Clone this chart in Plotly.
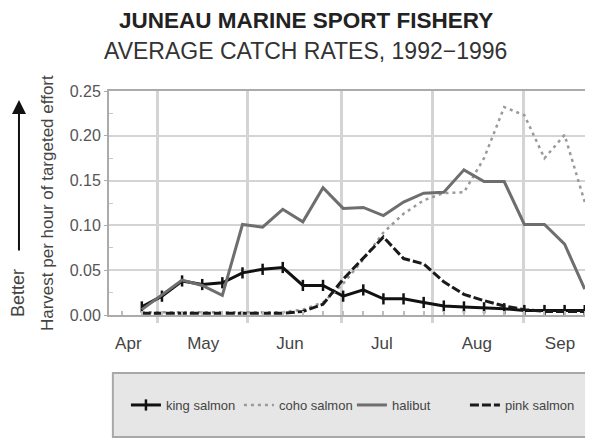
import plotly.graph_objects as go

# ---- data (weekly average catch rates, harvest per hour of targeted effort) ----
weeks = list(range(1, 24))
king_salmon = [0.009, 0.021, 0.038, 0.034, 0.036, 0.047, 0.051, 0.053, 0.033, 0.033, 0.021, 0.028,
               0.018, 0.018, 0.014, 0.010, 0.009, 0.008, 0.007, 0.005, 0.005, 0.005, 0.005]
coho_salmon = [0.003, 0.003, 0.003, 0.003, 0.003, 0.003, 0.003, 0.003, 0.006, 0.014, 0.035, 0.062,
               0.092, 0.113, 0.128, 0.136, 0.137, 0.175, 0.232, 0.223, 0.175, 0.201, 0.126]
halibut = [0.006, 0.023, 0.039, 0.033, 0.022, 0.101, 0.098, 0.118, 0.104, 0.142, 0.119, 0.120,
           0.111, 0.126, 0.136, 0.137, 0.162, 0.149, 0.149, 0.101, 0.101, 0.079, 0.029]
pink_salmon = [0.002, 0.002, 0.002, 0.002, 0.002, 0.002, 0.002, 0.002, 0.004, 0.012, 0.040, 0.064,
               0.087, 0.063, 0.057, 0.037, 0.023, 0.016, 0.010, 0.006, 0.004, 0.004, 0.004]

month_labels = ["Apr", "May", "Jun", "Jul", "Aug", "Sep"]
month_label_pos = [0.33, 4.05, 8.36, 12.92, 17.64, 21.77]   # mid-month, in week units
month_start_pos = [1.79, 6.26, 10.93, 15.43, 19.97]         # month boundaries (gridlines)
x_range = [-0.63, 23.41]

FONT = "Liberation Sans, Arial, Helvetica, sans-serif"
GRID = "#d4d4d4"
FRAME = "#ababab"

fig = go.Figure()

fig.add_trace(go.Scatter(
    x=weeks, y=king_salmon, name="king salmon", mode="lines+markers",
    line=dict(color="#111111", width=3),
    marker=dict(symbol="line-ns-open", size=8, color="#111111", line=dict(width=2.5, color="#111111")),
))
fig.add_trace(go.Scatter(
    x=weeks, y=coho_salmon, name="coho salmon", mode="lines",
    line=dict(color="#9a9a9a", width=2.5, dash="3px,4px"),
))
fig.add_trace(go.Scatter(
    x=weeks, y=halibut, name="halibut", mode="lines",
    line=dict(color="#6e6e6e", width=3),
))
fig.add_trace(go.Scatter(
    x=weeks, y=pink_salmon, name="pink salmon", mode="lines",
    line=dict(color="#1a1a1a", width=3, dash="9px,3px"),
))
# helper (invisible) trace for the weekly tick axis
fig.add_trace(go.Scatter(
    x=weeks, y=[None] * len(weeks), xaxis="x2", mode="lines",
    showlegend=False, hoverinfo="skip",
))

# the page body adds an 8px offset; margins compensate so the plot area sits at 109..593 x 91..315
fig.update_layout(
    width=593, height=440,
    margin=dict(l=101, r=8, t=83, b=133, autoexpand=False),
    paper_bgcolor="white", plot_bgcolor="white",
    font=dict(family=FONT, color="#444444", size=14),
    showlegend=True,
    legend=dict(
        orientation="h", xref="container", yref="container",
        x=0.580, xanchor="center", y=0.0977, yanchor="middle",
        bgcolor="rgba(0,0,0,0)", borderwidth=0,
        font=dict(size=13, color="#444444", family=FONT),
        entrywidth=68, entrywidthmode="pixels", itemwidth=30,
    ),
    xaxis=dict(
        range=x_range, tickmode="array", tickvals=month_label_pos, ticktext=month_labels,
        ticks="", showgrid=False, zeroline=False, automargin=False,
        showline=True, linecolor=FRAME, linewidth=2, mirror=True,
        tickfont=dict(size=17, color="#444444"), ticklabelstandoff=12,
        minor=dict(tickmode="array", tickvals=month_start_pos, showgrid=True,
                   gridcolor=GRID, gridwidth=3, ticks="outside", ticklen=6,
                   tickcolor=GRID, tickwidth=3),
    ),
    xaxis2=dict(
        range=x_range, overlaying="x", anchor="y", side="bottom", automargin=False,
        tickmode="linear", tick0=0, dtick=1, ticks="inside", ticklen=4,
        tickcolor="#bdbdbd", tickwidth=1.5, showticklabels=False,
        showgrid=False, zeroline=False, showline=False,
    ),
    yaxis=dict(
        range=[0, 0.25], tickmode="linear", tick0=0, dtick=0.05, tickformat=".2f",
        showgrid=True, gridcolor=GRID, gridwidth=2, zeroline=False, automargin=False,
        showline=True, linecolor=FRAME, linewidth=2, mirror=True,
        ticks="outside", ticklen=3, tickcolor=FRAME,
        tickfont=dict(size=16, color="#555555"),
        minor=dict(tickmode="linear", tick0=0.025, dtick=0.05, ticks="inside",
                   ticklen=4, tickcolor="#c8c8c8", showgrid=False),
    ),
)

# legend panel background
fig.add_shape(type="rect", xref="paper", yref="paper",
              x0=0.008, x1=0.998, y0=-0.545, y1=-0.259,
              fillcolor="#e6e6e6", line=dict(color="#a8a8a8", width=2), layer="below")

# titles
fig.add_annotation(text="<b>JUNEAU MARINE SPORT FISHERY</b>", xref="paper", yref="paper",
                   x=0.407, y=1.316, xanchor="center", yanchor="middle", showarrow=False,
                   borderpad=0, font=dict(size=22.5, color="#222222", family=FONT))
fig.add_annotation(text="AVERAGE CATCH RATES, 1992\u22121996", xref="paper", yref="paper",
                   x=0.407, y=1.180, xanchor="center", yanchor="middle", showarrow=False,
                   font=dict(size=23, color="#333333", family=FONT))

# y-axis title
fig.add_annotation(text="Harvest per hour of targeted effort", xref="paper", yref="paper",
                   x=-0.128, y=0.5, xanchor="center", yanchor="middle", textangle=-90,
                   showarrow=False, font=dict(size=17, color="#444444", family=FONT))
# "Better" with arrow
fig.add_annotation(text="Better", xref="paper", yref="paper",
                   x=-0.188, y=0.098, xanchor="center", yanchor="middle", textangle=-90,
                   showarrow=False, font=dict(size=18, color="#444444", family=FONT))
fig.add_annotation(text="", xref="paper", yref="paper", x=-0.186, y=0.96,
                   ax=0, ay=152, showarrow=True, arrowhead=2, arrowsize=1.4,
                   arrowwidth=2, arrowcolor="#111111")

fig.write_html("out.html")
